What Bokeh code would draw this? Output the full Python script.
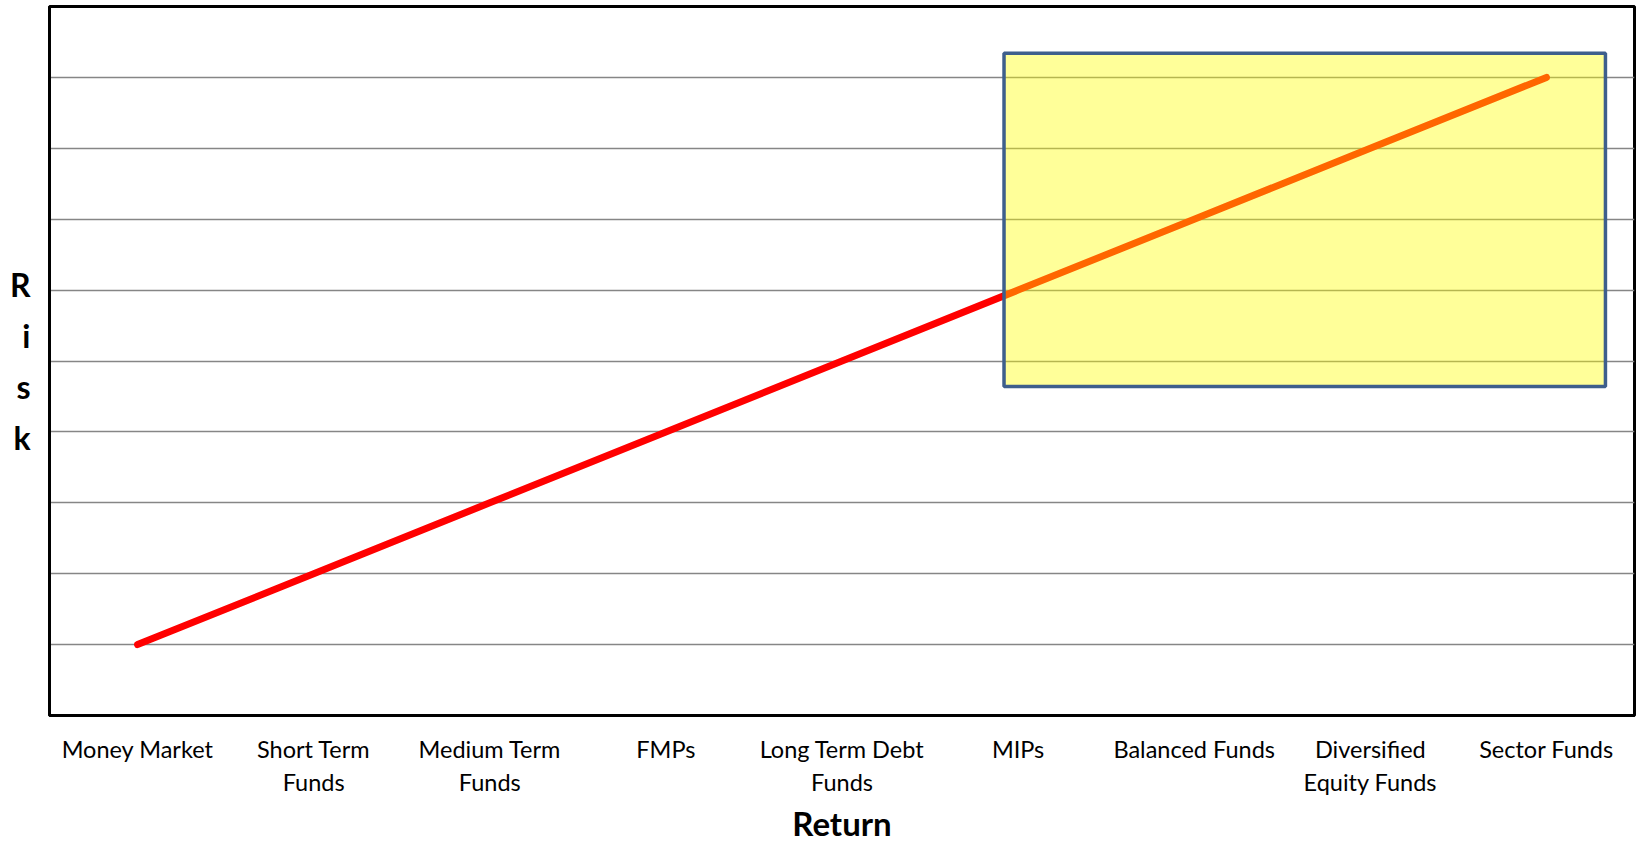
from bokeh.plotting import figure
from bokeh.models import FactorRange, Range1d, FixedTicker, BoxAnnotation
from bokeh.embed import file_html
from bokeh.resources import INLINE

categories = ["Money Market", "Short Term\nFunds", "Medium Term\nFunds", "FMPs",
              "Long Term Debt\nFunds", "MIPs", "Balanced Funds",
              "Diversified\nEquity Funds", "Sector Funds"]
risk = [1, 2, 3, 4, 5, 6, 7, 8, 9]
grid_ticks = [1, 2, 3, 4, 5, 6, 7, 8, 9]

FONT = "Lato"

p = figure(width=1636, height=847, output_backend="svg", toolbar_location=None,
           x_range=FactorRange(*categories, range_padding=0),
           y_range=Range1d(0, 10),
           min_border_left=49, min_border_right=2, min_border_top=6, min_border_bottom=132)

p.background_fill_color = "white"
p.border_fill_color = "white"
p.outline_line_color = "black"
p.outline_line_width = 3

p.line(categories, risk, line_color="#FF0000", line_width=7, line_cap="round")

box = BoxAnnotation(left=5.42, right=8.835, bottom=4.64, top=9.34,
                    fill_color="#FFFF00", fill_alpha=0.4,
                    line_color="#3E5F8C", line_width=3.5, line_alpha=1.0)
p.add_layout(box)

# grid
p.xgrid.grid_line_color = None
p.ygrid.ticker = FixedTicker(ticks=grid_ticks)
p.ygrid.grid_line_color = "#868686"
p.ygrid.grid_line_width = 1.5

# x axis
xa = p.xaxis[0]
xa.axis_line_color = "black"
xa.axis_line_width = 3
xa.major_tick_line_color = None
xa.minor_tick_line_color = None
xa.major_label_text_font = FONT
xa.major_label_text_font_size = "23.5px"
xa.major_label_text_color = "black"
xa.major_label_text_line_height = 1.2
xa.major_label_standoff = 13
xa.axis_label = "Return"
xa.axis_label_text_font = FONT
xa.axis_label_text_font_style = "bold"
xa.axis_label_text_font_size = "33px"
xa.axis_label_text_color = "black"
xa.axis_label_standoff = 4

# y axis
ya = p.yaxis[0]
ya.ticker = FixedTicker(ticks=[])
ya.axis_line_color = "black"
ya.axis_line_width = 3
ya.major_tick_line_color = None
ya.minor_tick_line_color = None
ya.major_label_standoff = 0
ya.axis_label = "R\ni\ns\nk"
ya.axis_label_orientation = "horizontal"
ya.axis_label_text_font = FONT
ya.axis_label_text_font_style = "bold"
ya.axis_label_text_font_size = "32px"
ya.axis_label_text_color = "black"
ya.axis_label_text_line_height = 1.3
ya.axis_label_text_align = "center"
ya.axis_label_standoff = 19

open("out.html", "w").write(file_html(p, INLINE))
